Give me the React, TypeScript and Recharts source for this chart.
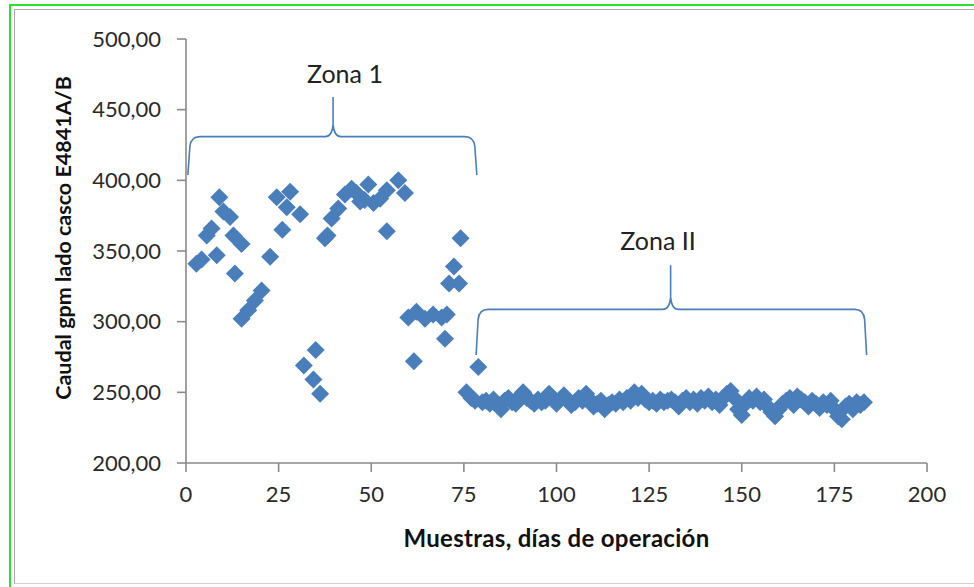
import React from 'react';
import { ScatterChart, Scatter, XAxis, YAxis, ReferenceLine } from 'recharts';

// Zona 1 samples (day, flow gpm)
const zona1Dias = [2.8, 4.2, 5.6, 6.9, 8.3, 9.0, 10.1, 11.9, 12.8, 13.2, 15.0, 15.0, 16.8, 18.6, 20.4, 22.7, 24.5, 26.0, 27.2, 28.1, 30.8, 31.8, 34.4, 35.0, 36.2, 37.5, 38.2, 39.3, 41.1, 42.9, 44.7, 46.0, 47.0, 48.2, 49.2, 50.6, 52.4, 54.2, 54.2, 57.3, 59.1, 60.0, 61.5, 62.2, 64.5, 66.7, 69.0, 70.4, 69.9, 71.0, 72.3, 73.7, 74.1, 75.7, 78.9];
const zona1Caudal = [341, 344, 361, 366, 347, 388, 378, 374, 361, 334, 355, 302, 308, 315, 322, 346, 388, 365, 381, 392, 376, 269, 259, 280, 249, 359, 361, 373, 380, 390, 394, 391, 385, 386, 397, 384, 387, 393, 364, 400, 391, 303, 272, 307, 302, 305, 303, 305, 288, 327, 339, 327, 359, 250, 268];

// Zona II samples
const zona2Dias = [77, 78, 80, 81, 82, 83, 84, 85, 86, 87, 88, 89, 90, 91, 92, 93, 94, 95, 96, 97, 98, 99, 100, 101, 102, 103, 104, 105, 106, 107, 108, 109, 110, 111, 112, 113, 114, 115, 116, 117, 118, 119, 120, 121, 122, 123, 124, 125, 126, 127, 128, 129, 130, 131, 132, 133, 134, 135, 136, 137, 138, 139, 140, 141, 142, 143, 144, 145, 146, 147, 148, 149, 150, 151, 152, 153, 154, 155, 156, 157, 158, 159, 160, 161, 162, 163, 164, 165, 166, 167, 168, 169, 170, 171, 172, 173, 174, 175, 176, 177, 178, 179, 180, 181, 182, 183];
const zona2Caudal = [246, 244, 243, 244, 242, 245, 241, 238, 244, 246, 243, 242, 247, 250, 246, 244, 242, 245, 243, 244, 249, 246, 242, 245, 248, 244, 241, 243, 246, 244, 249, 245, 240, 242, 244, 238, 241, 243, 242, 245, 243, 246, 244, 250, 246, 249, 245, 243, 244, 242, 245, 243, 244, 245, 243, 240, 244, 246, 243, 245, 242, 246, 244, 247, 243, 245, 241, 246, 249, 251, 246, 238, 234, 242, 246, 244, 247, 243, 245, 240, 236, 233, 238, 242, 244, 246, 241, 247, 245, 243, 240, 244, 242, 239, 243, 241, 244, 238, 233, 231, 240, 242, 238, 243, 241, 243];

const xTicks = [0, 25, 50, 75, 100, 125, 150, 175, 200];
const yTicks = [200, 250, 300, 350, 400, 450, 500];

// Brace annotations
const zonaEtiquetas = ['Zona 1', 'Zona II'];
const llaveInicio = [0.5, 78.3];
const llaveFin = [78.5, 183.7];
const llavePunta = [39.7, 130.8];
const llaveBase = [403.8, 276.4];
const llaveNivel = [430.9, 308.7];
const llaveCima = [459, 340];
const etiquetaX = [42.9, 127.4];
const etiquetaY = [476, 357.8];

const zona1 = zona1Dias.map((d, i) => ({ dia: d, caudal: zona1Caudal[i] }));
const zona2 = zona2Dias.map((d, i) => ({ dia: d, caudal: zona2Caudal[i] }));

const AZUL = '#4a7ebb';
const FONT = 'Lato, "Open Sans", sans-serif';

const Diamond = (props: any) => {
  const { cx, cy } = props;
  if (cx == null || cy == null) return null;
  const r = 9;
  return <path d={`M${cx},${cy - r}L${cx + r},${cy}L${cx},${cy + r}L${cx - r},${cy}Z`} fill={AZUL} />;
};

const makeBrace = (i: number) => (props: any) => {
  const { x1, y1, x2, y2 } = props;
  const s = llaveInicio[i], e = llaveFin[i];
  const b = llaveBase[i], c = llaveCima[i];
  const px = (v: number) => x1 + ((v - s) / (e - s)) * (x2 - x1);
  const py = (v: number) => y1 + ((v - b) / (c - b)) * (y2 - y1);
  const L = x1, R = x2, B = y1, T = y2;
  const Y = py(llaveNivel[i]);
  const tx = px(llavePunta[i]);
  const d = [
    `M${L},${B}`,
    `L${L + 2},${Y + 10}`,
    `Q${L + 3},${Y} ${L + 12},${Y}`,
    `L${tx - 8},${Y}`,
    `Q${tx - 1},${Y} ${tx},${Y - 12}`,
    `L${tx},${T}`,
    `M${tx},${Y - 12}`,
    `Q${tx + 1},${Y} ${tx + 8},${Y}`,
    `L${R - 12},${Y}`,
    `Q${R - 3},${Y} ${R - 2},${Y + 10}`,
    `L${R},${B}`,
  ].join(' ');
  return (
    <g>
      <path d={d} fill="none" stroke={AZUL} strokeWidth={1.6} />
      <text
        x={px(etiquetaX[i])}
        y={py(etiquetaY[i])}
        textAnchor="middle"
        dominantBaseline="central"
        fontFamily={FONT}
        fontSize={25}
        fill="#222"
      >
        {zonaEtiquetas[i]}
      </text>
    </g>
  );
};

const fmt = (v: number) => v.toFixed(2).replace('.', ',');

const YLabel = (props: any) => {
  const vb = props.viewBox || {};
  const x = vb.x + 63;
  const y = vb.y + vb.height / 2 - 13;
  return (
    <text
      x={x}
      y={y}
      transform={`rotate(-90 ${x} ${y})`}
      textAnchor="middle"
      dominantBaseline="central"
      fontFamily={FONT}
      fontWeight="bold"
      fontSize={21.5}
      fill="#111"
    >
      Caudal gpm lado casco E4841A/B
    </text>
  );
};

const XLabel = (props: any) => {
  const vb = props.viewBox || {};
  const x = vb.x + vb.width / 2;
  const y = vb.y + 74;
  return (
    <text x={x} y={y} textAnchor="middle" dominantBaseline="central" fontFamily={FONT} fontWeight="bold" fontSize={24} letterSpacing={0.3} fill="#111">
      Muestras, días de operación
    </text>
  );
};

export default function App() {
  return (
    <div style={{ position: 'absolute', left: 0, top: 0, width: 974, height: 587, background: '#fff', overflow: 'hidden' }}>
      <div style={{ position: 'absolute', left: 9, top: 4, width: 980, height: 600, borderTop: '2px solid #2ee02e', borderLeft: '2px solid #2ee02e' }} />
      <div style={{ position: 'absolute', left: 14, top: 9, width: 980, height: 573, borderTop: '1.5px solid #a8a8a8', borderLeft: '1.5px solid #a8a8a8', borderBottom: '1px solid #d0d0d0' }} />
      <div style={{ position: 'absolute', left: 0, top: 0 }}>
        <ScatterChart width={974} height={587} margin={{ top: 39, right: 47, bottom: 0, left: 0 }}>
          <XAxis
            type="number"
            dataKey="dia"
            domain={[0, 200]}
            ticks={xTicks}
            interval={0}
            allowDataOverflow
            height={124}
            tickSize={9}
            tickMargin={14}
            axisLine={{ stroke: '#8a8a8a', strokeWidth: 1.6 }}
            tickLine={{ stroke: '#8a8a8a', strokeWidth: 1.6 }}
            tick={{ fontFamily: FONT, fontSize: 22, fill: '#2a2a2a' }}
            label={<XLabel />}
          />
          <YAxis
            type="number"
            dataKey="caudal"
            domain={[200, 500]}
            ticks={yTicks}
            interval={0}
            allowDataOverflow
            width={186}
            tickSize={9}
            tickMargin={16}
            tickFormatter={fmt}
            axisLine={{ stroke: '#8a8a8a', strokeWidth: 1.6 }}
            tickLine={{ stroke: '#8a8a8a', strokeWidth: 1.6 }}
            tick={{ fontFamily: FONT, fontSize: 22, fill: '#2a2a2a' }}
            label={<YLabel />}
          />
          <Scatter data={zona1} shape={<Diamond />} isAnimationActive={false} />
          <Scatter data={zona2} shape={<Diamond />} isAnimationActive={false} />
          {zonaEtiquetas.map((_, i) => (
            <ReferenceLine
              key={i}
              segment={[
                { x: llaveInicio[i], y: llaveBase[i] },
                { x: llaveFin[i], y: llaveCima[i] },
              ]}
              shape={makeBrace(i)}
            />
          ))}
        </ScatterChart>
      </div>
    </div>
  );
}
